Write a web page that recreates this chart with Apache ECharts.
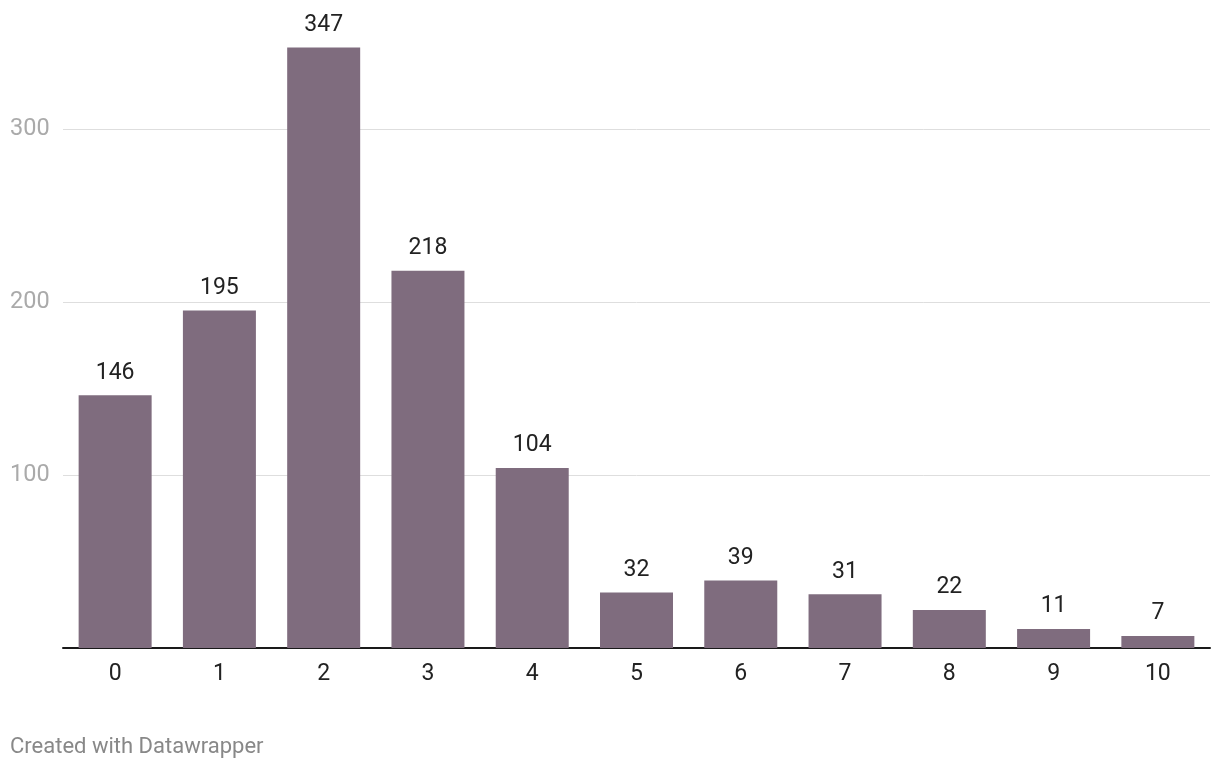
<!DOCTYPE html>
<html><head><meta charset="utf-8">
<script src="https://cdn.jsdelivr.net/npm/echarts@6/dist/echarts.min.js"></script>
<style>html,body{margin:0;padding:0;background:#fff}#c{width:1220px;height:768px}</style>
</head><body><div id="c"></div>
<script>
const categories = ['0','1','2','3','4','5','6','7','8','9','10'];
const values = [146,195,347,218,104,32,39,31,22,11,7];
const yTicks = [0,100,200,300];
const footer = 'Created with Datawrapper';

const chart = echarts.init(document.getElementById('c'), null, {renderer:'canvas'});
chart.setOption({
  animation:false,
  backgroundColor:'#fff',
  textStyle:{fontFamily:'Roboto'},
  title:{text:footer,left:5,top:731,textStyle:{fontFamily:'Roboto',fontSize:22,fontWeight:'normal',color:'#888'}},
  grid:{left:63,right:10,top:25,bottom:120,containLabel:false},
  xAxis:{type:'category',data:categories,
    axisLine:{lineStyle:{color:'#1a1a1a',width:2}},
    axisTick:{show:false},
    axisLabel:{fontFamily:'Roboto',fontSize:23,color:'#222',margin:15}},
  yAxis:{type:'value',min:0,max:360,interval:100,
    axisLine:{show:false},axisTick:{show:false},
    axisLabel:{fontFamily:'Roboto',fontSize:23.5,color:'#aaa',align:'left',margin:53,
      formatter:v=>yTicks.indexOf(v)>0?String(v):''},
    splitLine:{lineStyle:{color:'#dedede',width:1},showMinLine:false,showMaxLine:false}},
  series:[{type:'bar',data:values,barWidth:73,
    itemStyle:{color:'#7f6c7e'},
    label:{show:true,position:'top',distance:11,fontFamily:'Roboto',fontSize:23,color:'#222'}}]
});
</script></body></html>
